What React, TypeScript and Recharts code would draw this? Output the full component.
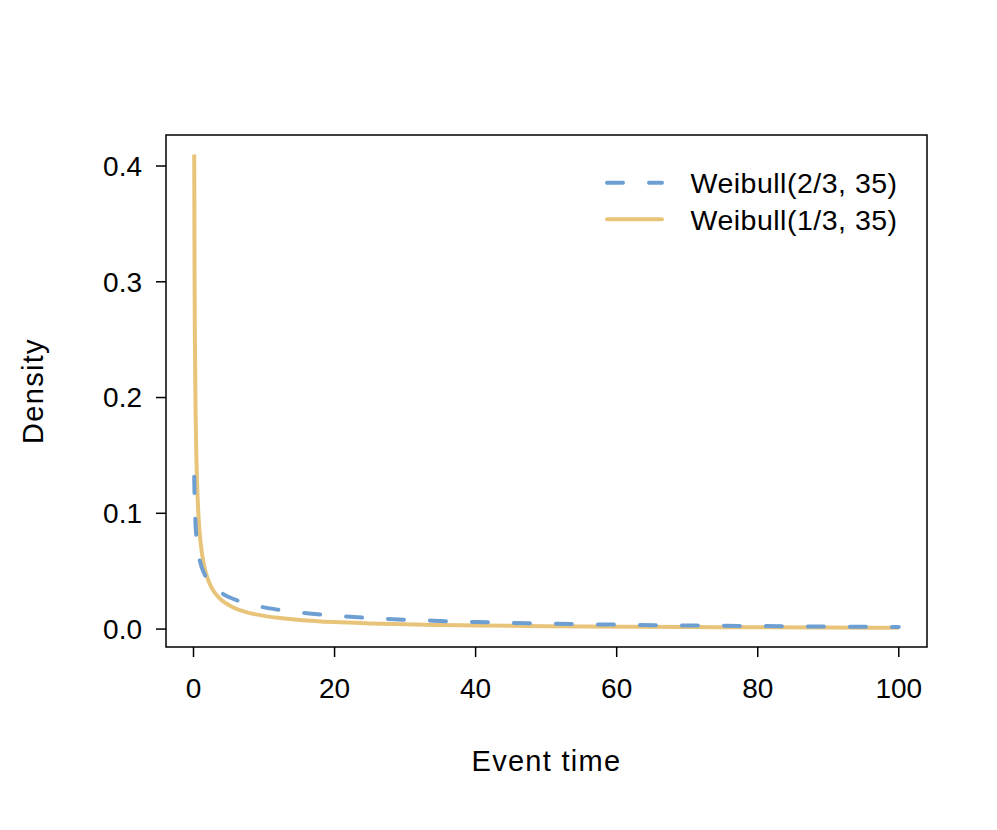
import React from "react";
import {
  LineChart,
  Line,
  XAxis,
  YAxis,
  ReferenceArea,
} from "recharts";

// event times (x) and density values
const eventTimes = [
  0.1, 0.15, 0.2, 0.3, 0.4, 0.5, 0.75, 1, 1.5, 2, 2.5, 3, 4, 5, 6, 7, 8, 10,
  12, 15, 20, 25, 30, 35, 40, 50, 60, 70, 80, 90, 100,
];
const weibullTwoThirds = [
  0.1316, 0.1142, 0.1031, 0.0892, 0.0804, 0.074, 0.0635, 0.0567, 0.0482,
  0.0426, 0.0386, 0.0356, 0.031, 0.0277, 0.0252, 0.0231, 0.0214, 0.0187,
  0.0167, 0.0143, 0.0115, 0.0096, 0.0081, 0.007, 0.0061, 0.0048, 0.0038,
  0.0031, 0.0026, 0.0021, 0.0018,
];
const weibullOneThird = [
  0.41, 0.3068, 0.2487, 0.1853, 0.1499, 0.127, 0.0935, 0.0751, 0.0548,
  0.0437, 0.0365, 0.0315, 0.0249, 0.0207, 0.0177, 0.0155, 0.0138, 0.0114,
  0.0097, 0.0079, 0.006, 0.0049, 0.0041, 0.0035, 0.0031, 0.0024, 0.002,
  0.0017, 0.0015, 0.0013, 0.0011,
];
const xTicks = [0, 20, 40, 60, 80, 100];
const yTicks = [0, 0.1, 0.2, 0.3, 0.4];

const xDomain = [-3.9, 104];
const yDomain = [-0.0155, 0.4268];

const FONT = "'Liberation Sans', Arial, Helvetica, sans-serif";
const BLUE = "#6E9FD2";
const GOLD = "#E8C47B";

const series = [
  { key: "w23", name: "Weibull(2/3, 35)", color: BLUE, dash: "16 26" },
  { key: "w13", name: "Weibull(1/3, 35)", color: GOLD, dash: undefined },
];

const data = eventTimes.map((t, i) => ({
  t,
  w23: weibullTwoThirds[i],
  w13: weibullOneThird[i],
}));

const YTitle = (props: any) => {
  const { viewBox } = props;
  const cy = viewBox.y + viewBox.height / 2;
  return (
    <text
      x={43}
      y={cy}
      transform={`rotate(-90, 43, ${cy})`}
      textAnchor="middle"
      fontSize={29}
      letterSpacing={1.3}
      fontFamily={FONT}
      fill="#000"
    >
      Density
    </text>
  );
};

const LegendBox = () => (
  <svg
    width={340}
    height={80}
    style={{ position: "absolute", left: 590, top: 160 }}
  >
    {series.map((s, i) => {
      const y = 22.7 + i * 36.6;
      return (
        <g key={s.key}>
          <line
            x1={17}
            x2={72}
            y1={y}
            y2={y}
            stroke={s.color}
            strokeWidth={4}
            strokeLinecap="round"
            strokeDasharray={s.dash}
          />
          <text
            x={100.5}
            y={y}
            dy="0.36em"
            fontSize={28.5}
            letterSpacing={0.5}
            fontFamily={FONT}
            fill="#000"
          >
            {s.name}
          </text>
        </g>
      );
    })}
  </svg>
);

export default function App() {
  const tickStyle = { fill: "#000", fontSize: 28, fontFamily: FONT };
  return (
    <div
      style={{
        position: "absolute",
        left: 0,
        top: 0,
        width: 997,
        height: 830,
        background: "#fff",
      }}
    >
      <LineChart
        width={997}
        height={830}
        data={data}
        margin={{ top: 135, right: 70, bottom: 123, left: 86 }}
      >
        <XAxis
          dataKey="t"
          type="number"
          domain={xDomain}
          ticks={xTicks}
          height={60}
          axisLine={false}
          tickLine={{ stroke: "#000", strokeWidth: 1.5 }}
          tickSize={10}
          tickMargin={21}
          tick={tickStyle}
          label={{
            value: "Event time",
            position: "bottom",
            offset: 43,
            fontSize: 29,
            letterSpacing: 1.3,
            fontFamily: FONT,
            fill: "#000",
          }}
        />
        <YAxis
          type="number"
          domain={yDomain}
          ticks={yTicks}
          width={80}
          axisLine={false}
          tickLine={{ stroke: "#000", strokeWidth: 1.5 }}
          tickSize={10}
          tickMargin={14}
          tick={tickStyle}
          tickFormatter={(v: number) => v.toFixed(1)}
          label={{ content: YTitle }}
        />
        <ReferenceArea
          x1={xDomain[0]}
          x2={xDomain[1]}
          y1={yDomain[0]}
          y2={yDomain[1]}
          fill="none"
          stroke="#000"
          strokeWidth={1.5}
          fillOpacity={0}
        />
        <Line
          dataKey="w13"
          type="monotone"
          stroke={GOLD}
          strokeWidth={4}
          dot={false}
          activeDot={false}
          isAnimationActive={false}
        />
        <Line
          dataKey="w23"
          type="monotone"
          stroke={BLUE}
          strokeWidth={4}
          strokeDasharray="16 26"
          strokeLinecap="round"
          dot={false}
          activeDot={false}
          isAnimationActive={false}
        />
      </LineChart>
      <LegendBox />
    </div>
  );
}
